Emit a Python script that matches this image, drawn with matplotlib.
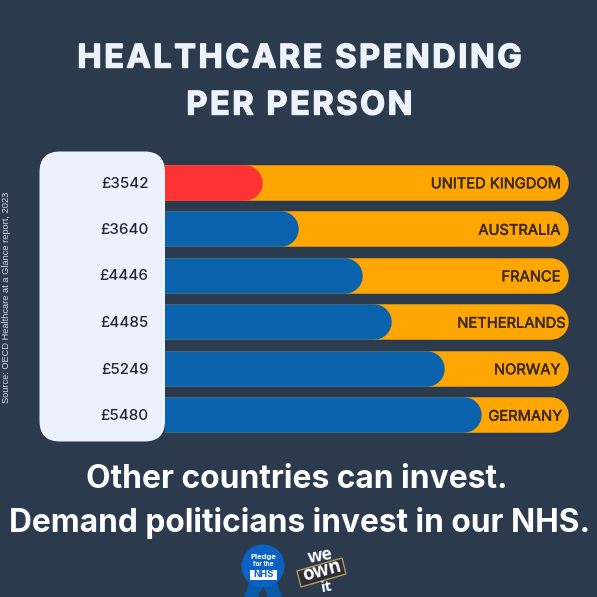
import matplotlib
matplotlib.use("Agg")
import matplotlib.pyplot as plt
import matplotlib.patheffects as pe
from matplotlib.patches import FancyBboxPatch, Circle, Polygon, Rectangle

countries = ["UNITED KINGDOM", "AUSTRALIA", "FRANCE", "NETHERLANDS", "NORWAY", "GERMANY"]
spending = [3542, 3640, 4446, 4485, 5249, 5480]
# Drawn bar length as share of the orange track (the source bars are not strictly to scale)
bar_share = [24.3, 33.2, 49.0, 56.2, 69.2, 78.4]
bar_colors = ["#FD3333", "#0B62AC", "#0B62AC", "#0B62AC", "#0B62AC", "#0B62AC"]

BG = "#2C3A4E"
ORANGE = "#FFA602"
PANEL = "#EBF1FD"
TITLE = "#EEF2FA"
W = H = 597
HAIR = "\u200a"

fig = plt.figure(figsize=(W / 100, H / 100), dpi=100, facecolor=BG)

top, bottom, left, right = 159.5, 438.5, 165, 569
ax = fig.add_axes([left / W, 1 - bottom / H, (right - left) / W, (bottom - top) / H], zorder=1)
ax.set_xlim(0, 100)
ax.set_ylim(len(countries) - 0.5, -0.5)
ax.axis("off")
bar_pt = 35.5 * 0.72
cap = (35.5 / 2) / (right - left) * 100
for i, (share, col) in enumerate(zip(bar_share, bar_colors)):
    ax.plot([0, 100 - cap], [i, i], color=ORANGE, lw=bar_pt, solid_capstyle="round", zorder=2)
    ax.plot([0, share - cap], [i, i], color=col, lw=bar_pt, solid_capstyle="round", zorder=3)
    right_edge = {"NETHERLANDS": 99.0, "GERMANY": 98.2}.get(countries[i], 97.8)
    t = ax.text(right_edge, i, countries[i], ha="right", va="center_baseline",
                fontsize=10.6, family="Inter", color="#3A2A1C", zorder=4)
    t.set_path_effects([pe.withStroke(linewidth=0.35, foreground="#3A2A1C")])

ov = fig.add_axes([0, 0, 1, 1], zorder=2)
ov.set_xlim(0, W)
ov.set_ylim(H, 0)
ov.axis("off")
ov.patch.set_alpha(0)

ov.add_patch(FancyBboxPatch((60, 172), 84.5, 249, boxstyle="round,pad=20.5,rounding_size=20.5",
                            fc=PANEL, ec="none"))
for i, v in enumerate(spending):
    y = 182 + i * 46.5
    ov.text(148.5, y, f"£{v}", ha="right", va="center_baseline", fontsize=10.9,
            family="Inter", fontweight="medium", color="#23262E")

for line, y in [("HEALTHCARE SPENDING", 59), ("PER PERSON", 106)]:
    t = ov.text(299, y, HAIR.join(line), ha="center", va="center", color=TITLE,
                fontsize=23.4, fontweight="bold", family="Inter")
    t.set_path_effects([pe.withStroke(linewidth=1.0, foreground=TITLE)])

ov.text(296.5, 480, "Other countries can invest.", ha="center", va="center", color="white",
        fontsize=22.9, fontweight="bold", family="Inter")
ov.text(299.5, 523, "Demand politicians invest in our NHS.", ha="center", va="center", color="white",
        fontsize=22.8, fontweight="bold", family="Inter")
ov.text(7, 297.5, "Source: OECD Healthcare at a Glance report, 2023", rotation=90, ha="center",
        va="center", color="#D5DAE2", fontsize=6.7, family="Liberation Sans")

BLUE = "#0C62C4"
ov.add_patch(Polygon([[250, 580], [244, 597], [258, 597], [263, 586], [268, 597], [282, 597], [276, 580]],
                     fc="#0B5AA8", ec="none"))
ov.add_patch(Circle((263, 566), 21.5, fc=BLUE, ec="none"))
ov.text(263, 556.5, "Pledge", ha="center", va="center", color="white", fontsize=5.6,
        fontweight="bold", family="Inter")
ov.text(263, 564, "for the", ha="center", va="center", color="white", fontsize=4.6,
        fontweight="bold", family="Inter")
ov.add_patch(Rectangle((250, 569.5), 27, 10, fc="white", ec="none"))
ov.text(263.5, 574.7, "NHS", ha="center", va="center", color=BLUE, fontsize=6.8,
        fontweight="bold", family="Inter")

ov.text(320, 556, "we", ha="center", va="center", color="white", fontsize=12.5,
        fontweight="bold", family="Open Sans", rotation=10)
ov.add_patch(Polygon([[297, 571], [342, 558], [346, 574], [301, 587]], fc="#2A2D36", ec="#B49A5A", lw=1))
ov.text(322, 571.5, "own", ha="center", va="center", color="white", fontsize=13.5,
        fontweight="bold", family="Open Sans", rotation=15)
ov.text(327, 587, "it", ha="center", va="center", color="white", fontsize=11,
        fontweight="bold", family="Open Sans", rotation=10)

fig.savefig("out.png", dpi=100, facecolor=BG)
